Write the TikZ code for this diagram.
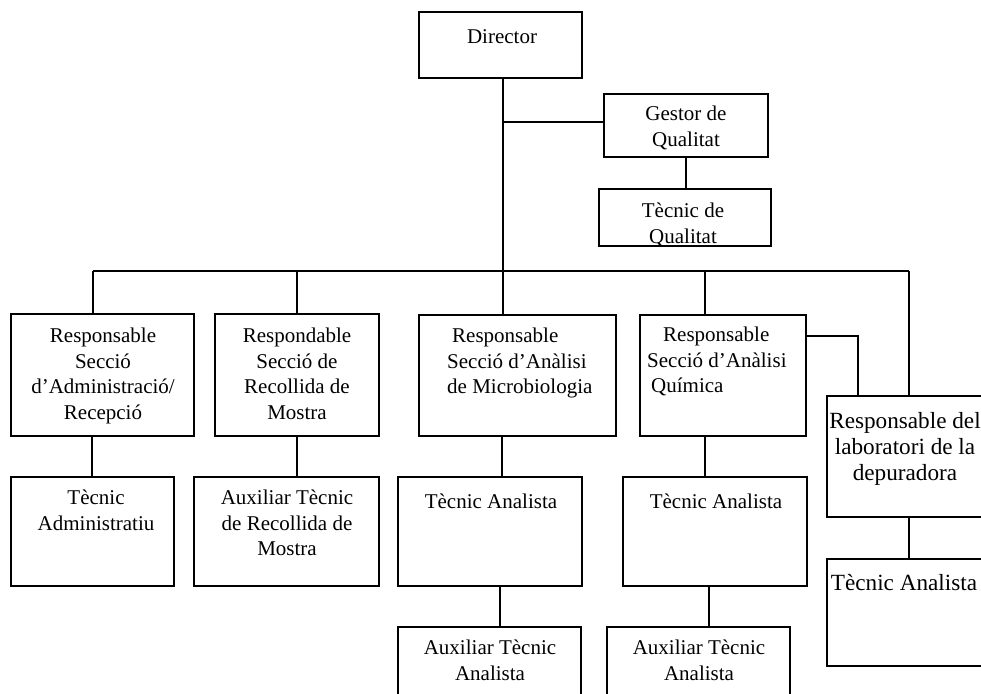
\documentclass[tikz,border=0pt]{standalone}
\usepackage{fontspec}
\setmainfont{Liberation Serif}
\begin{document}
\begin{tikzpicture}[x=1pt,y=-1pt,
  box/.style={draw=black, line width=1.1pt, fill=white, inner sep=0pt, outer sep=0pt, anchor=north west},
  txt/.style={font=\fontsize{21}{25.5}\selectfont, inner sep=0pt, anchor=north, yshift=17.85pt, align=center, execute at begin node=\strut},
  bigtxt/.style={font=\fontsize{23.2}{26}\selectfont, inner sep=0pt, anchor=north, yshift=18.2pt, align=center, execute at begin node=\strut},
  conn/.style={draw=black, line width=1.1pt}]
\useasboundingbox (0,0) rectangle (981,693);
\fill[white] (0,0) rectangle (981,693);

% boxes
\node[box, minimum width=163pt, minimum height=66pt]  (dir)   at (419,12)  {};
\node[box, minimum width=164pt, minimum height=63pt]  (ges)   at (604,94)  {};
\node[box, minimum width=172pt, minimum height=57pt]  (tq)    at (599,189) {};
\node[box, minimum width=183pt, minimum height=122pt] (adm)   at (11,314)  {};
\node[box, minimum width=164pt, minimum height=122pt] (rec)   at (215,314) {};
\node[box, minimum width=197pt, minimum height=121pt] (mic)   at (419,315) {};
\node[box, minimum width=166pt, minimum height=121pt] (qui)   at (640,315) {};
\node[box, minimum width=160pt, minimum height=121pt] (dep)   at (827,396) {};
\node[box, minimum width=163pt, minimum height=109pt] (tadm)  at (11,477)  {};
\node[box, minimum width=185pt, minimum height=109pt] (arec)  at (194,477) {};
\node[box, minimum width=184pt, minimum height=109pt] (tamic) at (398,477) {};
\node[box, minimum width=184pt, minimum height=109pt] (taqui) at (623,477) {};
\node[box, minimum width=183pt, minimum height=80pt]  (aamic) at (398,627) {};
\node[box, minimum width=183pt, minimum height=80pt]  (aaqui) at (607,627) {};
\node[box, minimum width=160pt, minimum height=107pt] (tadep) at (827,559) {};

% connector coordinates
\coordinate (b1) at (93,271);
\coordinate (b2) at (297,271);
\coordinate (b3) at (503,271);
\coordinate (b4) at (705,271);
\coordinate (b5) at (909,271);
\coordinate (g)  at (503,122);
\coordinate (qk) at (858,336);
\coordinate (xa) at (92,0);
\coordinate (xr) at (297,0);
\coordinate (xm1) at (502,0);
\coordinate (xm2) at (500,0);
\coordinate (xq1) at (705,0);
\coordinate (xq2) at (709,0);
\coordinate (xd) at (909,0);

% connectors
\draw[conn] (b1) -- (b5);
\draw[conn] (dir.south -| b3) -- (mic.north -| b3);
\draw[conn] (g) -- (g -| ges.west);
\draw[conn] (ges.south) -- (ges.south |- tq.north);
\draw[conn] (b1) -- (b1 |- adm.north);
\draw[conn] (b2) -- (b2 |- rec.north);
\draw[conn] (b4) -- (b4 |- qui.north);
\draw[conn] (b5) -- (b5 |- dep.north);
\draw[conn] (qk -| qui.east) -- (qk) -- (qk |- dep.north);
\draw[conn] (adm.south -| xa) -- (tadm.north -| xa);
\draw[conn] (rec.south -| xr) -- (arec.north -| xr);
\draw[conn] (mic.south -| xm1) -- (tamic.north -| xm1);
\draw[conn] (tamic.south -| xm2) -- (aamic.north -| xm2);
\draw[conn] (qui.south -| xq1) -- (taqui.north -| xq1);
\draw[conn] (taqui.south -| xq2) -- (aaqui.north -| xq2);
\draw[conn] (dep.south -| xd) -- (tadep.north -| xd);

% texts
\node[txt] (t-dir) at (502,43) {Director};
\node[txt] (t-ges) at (686,124) {Gestor de\\Qualitat};
\node[txt] (t-tq) at (683,221) {Tècnic de\\Qualitat};
\node[txt] (t-adm) at (103,346) {Responsable\\Secció\\d’Administració/\\Recepció};
\node[txt] (t-rec) at (297,346) {Respondable\\Secció de\\Recollida de\\Mostra};
\node[txt, anchor=north west, align=left] (t-mic) at (447,346) {\hspace*{5pt}Responsable\\Secció d’Anàlisi\\de Microbiologia};
\node[txt, anchor=north west, align=left] (t-qui) at (647,345) {\hspace*{16pt}Responsable\\Secció d’Anàlisi\\\hspace*{4pt}Química};
\node[bigtxt] (t-dep) at (905,430) {Responsable del\\laboratori de la\\depuradora};
\node[txt] (t-tadm) at (96,508) {Tècnic\\Administratiu};
\node[txt] (t-arec) at (287,508) {Auxiliar Tècnic\\de Recollida de\\Mostra};
\node[txt] (t-tamic) at (491,508) {Tècnic Analista};
\node[txt] (t-taqui) at (716,508) {Tècnic Analista};
\node[txt] (t-aamic) at (490,658) {Auxiliar Tècnic\\Analista};
\node[txt] (t-aaqui) at (699,658) {Auxiliar Tècnic\\Analista};
\node[bigtxt] (t-tadep) at (904,590) {Tècnic Analista};
\end{tikzpicture}
\end{document}
